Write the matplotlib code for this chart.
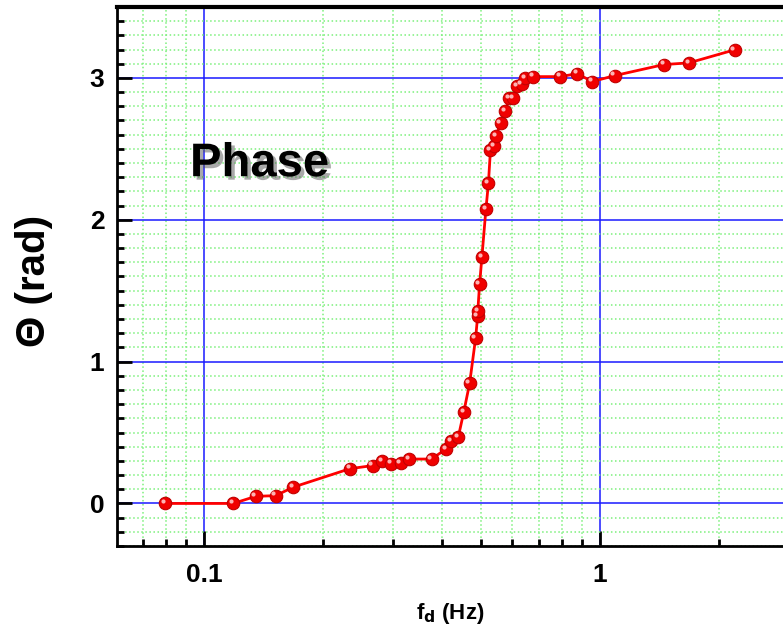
import matplotlib
matplotlib.use("Agg")
import matplotlib.pyplot as plt
import matplotlib.patheffects as pe
from matplotlib.transforms import ScaledTranslation
from matplotlib.ticker import LogLocator, MultipleLocator, FixedFormatter, FixedLocator

plt.rcParams['font.family'] = ['Liberation Sans', 'DejaVu Sans']
plt.rcParams['font.weight'] = 'bold'

# drive frequency (Hz) and phase (rad)
freq = [0.0797, 0.1186, 0.1351, 0.1517, 0.1681, 0.2337, 0.2667, 0.2814,
        0.2967, 0.3138, 0.3299, 0.3758, 0.4084, 0.4205, 0.4386, 0.4530,
        0.4688, 0.4854, 0.4911, 0.4915, 0.4968, 0.5035, 0.5153, 0.5229,
        0.5291, 0.5399, 0.5462, 0.5614, 0.5765, 0.5902, 0.6041, 0.6183,
        0.6343, 0.6477, 0.6785, 0.7938, 0.8764, 0.9563, 1.089, 1.451,
        1.678, 2.189]
phase = [0.0, 0.0, 0.05, 0.055, 0.115, 0.245, 0.267, 0.30,
         0.281, 0.285, 0.313, 0.313, 0.384, 0.441, 0.465, 0.644,
         0.847, 1.166, 1.319, 1.354, 1.547, 1.738, 2.073, 2.257,
         2.491, 2.517, 2.588, 2.682, 2.765, 2.856, 2.859, 2.941,
         2.958, 3.0, 3.009, 3.009, 3.03, 2.974, 3.016, 3.094,
         3.106, 3.198]

fig = plt.figure(figsize=(7.83, 6.34), dpi=100)
ax = fig.add_axes([0.1494, 0.1388, 0.8506, 0.8502])

ax.set_xscale('log')
ax.set_xlim(0.0603, 2.9)
ax.set_ylim(-0.3, 3.5)

ax.xaxis.set_major_locator(FixedLocator([0.1, 1]))
ax.xaxis.set_major_formatter(FixedFormatter(['0.1', '1']))
ax.xaxis.set_minor_locator(LogLocator(base=10, subs=range(2, 10)))
ax.xaxis.set_minor_formatter(plt.NullFormatter())
ax.yaxis.set_major_locator(MultipleLocator(1))
ax.yaxis.set_minor_locator(MultipleLocator(0.1))

ax.grid(which='minor', color='#7cf07c', linestyle=':', linewidth=1.1)
ax.grid(which='major', color='#1a1aff', linestyle='-', linewidth=1.1)
ax.set_axisbelow(True)

ax.spines['right'].set_visible(False)
ax.spines['top'].set_linewidth(3)
ax.spines['left'].set_linewidth(2)
ax.spines['bottom'].set_linewidth(2)

ax.tick_params(which='major', direction='in', length=11, width=2,
               labelsize=19, pad=9)
ax.tick_params(which='minor', direction='in', length=5, width=2)
ax.tick_params(axis='x', pad=12, top=False)
for lab in ax.get_xticklabels() + ax.get_yticklabels():
    lab.set_fontweight('bold')

ax.plot(freq, phase, color='#ff0000', linewidth=2, zorder=3)
ax.plot(freq, phase, linestyle='none', marker='o', markersize=9,
        markerfacecolor='#f00000', markeredgecolor='#c00000',
        markeredgewidth=0.8, zorder=4)
hl = ax.transData + ScaledTranslation(-1.6 / 72, 1.6 / 72, fig.dpi_scale_trans)
ax.plot(freq, phase, linestyle='none', marker='o', markersize=3,
        markerfacecolor='#ffc8c8', markeredgewidth=0, alpha=0.9,
        transform=hl, zorder=5)

ax.text(0.0922, 2.307, 'Phase', fontsize=34, fontweight='bold', color='black',
        ha='left', va='baseline', zorder=6,
        path_effects=[pe.SimplePatchShadow(offset=(2.5, -2.5), alpha=0.5,
                                           shadow_rgbFace='#555555'),
                      pe.Normal()])

ax.set_xlabel('f$_\\mathbf{d}$ (Hz)', fontsize=16, fontweight='bold',
              labelpad=10)
fig.text(34 / 783, 1 - 281 / 634, 'Θ (rad)', rotation=90, fontsize=29,
         fontweight='bold', ha='center', va='center')

plt.savefig('out.png', dpi=100)
